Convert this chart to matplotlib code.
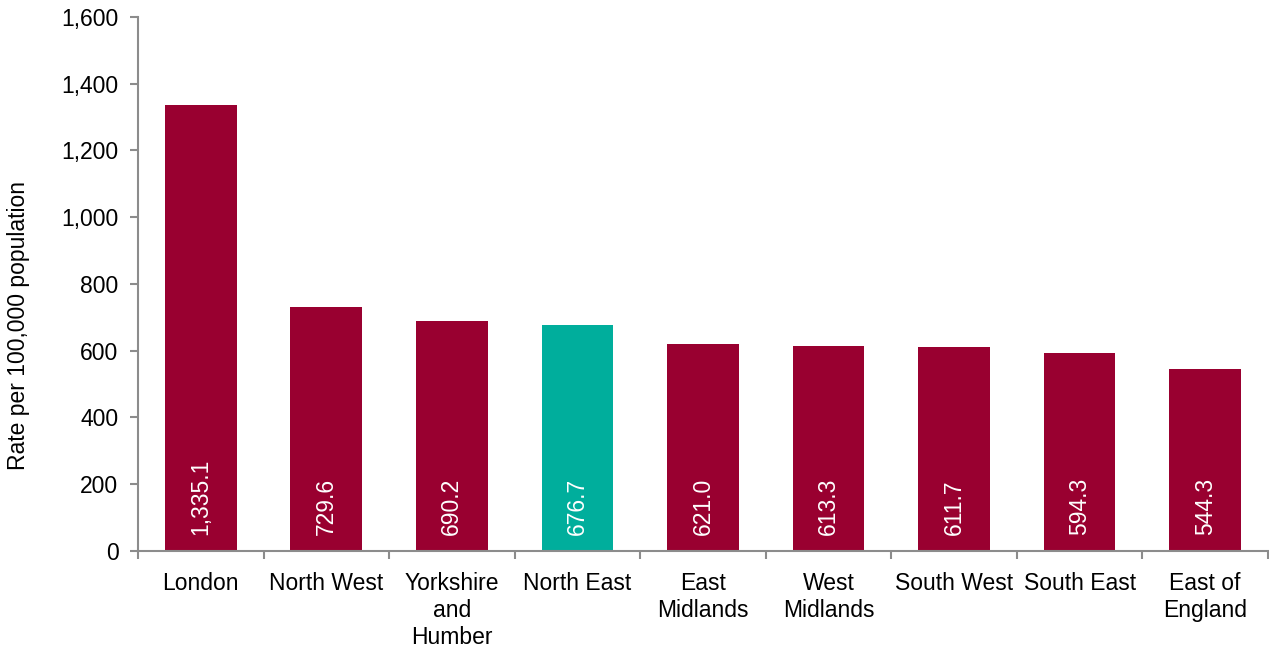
import matplotlib.pyplot as plt
from matplotlib.ticker import FuncFormatter, FixedLocator, NullFormatter

plt.rcParams['font.family'] = ['Liberation Sans', 'DejaVu Sans']

regions = ["London", "North West", "Yorkshire\nand\nHumber", "North East", "East\nMidlands",
           "West\nMidlands", "South West", "South East", "East of\nEngland"]
rates = [1335.1, 729.6, 690.2, 676.7, 621.0, 613.3, 611.7, 594.3, 544.3]
highlight = "North East"

red = "#990030"
teal = "#00AE9C"
grey = "#8c8c8c"
fs = 16.5

fig = plt.figure(figsize=(12.69, 6.48), dpi=100)
ax = fig.add_axes([0.1087, 0.1497, 0.8905, 0.8241])

x = list(range(len(rates)))
colors = [teal if r == highlight else red for r in regions]
bars = ax.bar(x, rates, width=0.57, color=colors, zorder=2)

for xi, v in zip(x, rates):
    ax.annotate(f"{v:,.1f}", (xi, 0), xytext=(0, 16), textcoords="offset pixels",
                rotation=90, ha="center", va="bottom", color="white", fontsize=fs)

ax.set_xlim(-0.5, len(rates) - 0.5)
ax.set_ylim(0, 1600)
ax.set_yticks(range(0, 1601, 200))
ax.yaxis.set_major_formatter(FuncFormatter(lambda v, p: f"{int(v):,}"))

# category labels centred, tick marks at boundaries
ax.set_xticks(x)
ax.set_xticklabels(regions, fontsize=fs, linespacing=1.24)
ax.tick_params(axis="x", which="major", length=0, pad=15)
ax.xaxis.set_minor_locator(FixedLocator([i - 0.5 for i in range(len(rates) + 1)]))
ax.xaxis.set_minor_formatter(NullFormatter())
ax.tick_params(axis="x", which="minor", length=6, color=grey, width=1.5)
ax.tick_params(axis="y", length=6, color=grey, width=1.5, labelsize=fs, pad=8)

for s in ["top", "right"]:
    ax.spines[s].set_visible(False)
for s in ["left", "bottom"]:
    ax.spines[s].set_color(grey)
    ax.spines[s].set_linewidth(1.5)

ax.set_ylabel("Rate per 100,000 population", fontsize=fs, va="center")
ax.yaxis.set_label_coords(-0.106, 0.423)

fig.savefig("out.png", dpi=100)
